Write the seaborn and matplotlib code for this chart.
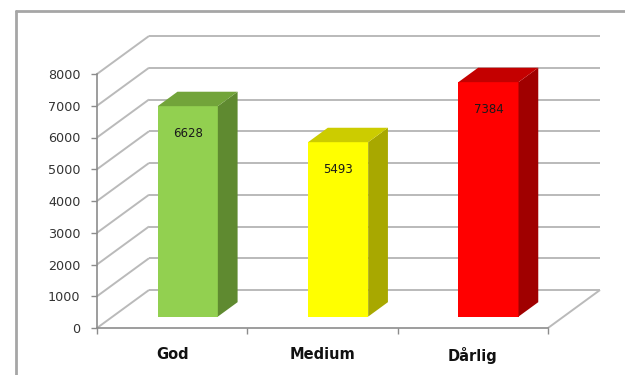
import matplotlib
matplotlib.use("Agg")
import matplotlib.pyplot as plt
import matplotlib.transforms as mtransforms
from matplotlib.patches import Polygon
from matplotlib.lines import Line2D
import pandas as pd
import seaborn as sns

# Data
categories = ["God", "Medium", "Dårlig"]
values = [6628, 5493, 7384]
y_ticks = [0, 1000, 2000, 3000, 4000, 5000, 6000, 7000, 8000]

# Face colours per bar (front, right side, top)
front_colors = ["#92d050", "#ffff00", "#ff0000"]
side_colors = ["#5f8a30", "#a8a800", "#a00000"]
top_colors = ["#72a43a", "#cccc00", "#c40000"]

sns.set_theme(style="white")
plt.rcParams["font.family"] = ["DejaVu Sans"]

W, H = 625, 375
fig = plt.figure(figsize=(W / 100, H / 100), dpi=100)
fig.patch.set_facecolor("white")

# front plane of the 3-D box, in pixels
left_px, right_px, floor_px, top_px = 97, 548, 328, 74
ax = fig.add_axes([left_px / W, (H - floor_px) / H,
                   (right_px - left_px) / W, (floor_px - top_px) / H])
ax.set_facecolor("none")

df = pd.DataFrame({"category": categories, "value": values})
sns.barplot(data=df, x="category", y="value", hue="category",
            palette=front_colors, width=0.4, saturation=1,
            legend=False, ax=ax, zorder=3)
ax.set_xlim(-0.5, 2.5)
ax.set_ylim(0, 8000)

# depth vector of the box in data units
px_x = (right_px - left_px) / 3.0
px_y = (floor_px - top_px) / 8000.0
ddx, ddy = 52 / px_x, 38 / px_y
ox, oy = 0.30 * ddx, 0.30 * ddy      # bars sit a little back from the front plane
bx, by = 0.38 * ddx, 0.38 * ddy      # bar depth

grid_kw = dict(color="#bababa", lw=1.4, clip_on=False, zorder=0.5,
               solid_capstyle="butt")
x0_, x1_ = ax.get_xlim()
for v in y_ticks:
    ax.plot([x0_ + ddx, x1_ + ddx], [v + ddy, v + ddy], **grid_kw)
    ax.plot([x0_, x0_ + ddx], [v, v + ddy], **grid_kw)
ax.plot([x1_, x1_ + ddx], [0, ddy], **grid_kw)

shift = mtransforms.Affine2D().translate(ox, oy) + ax.transData
for p, side_c, top_c, v in zip(ax.patches, side_colors, top_colors, values):
    p.set_transform(shift)
    p.set_edgecolor("none")
    p.set_clip_on(False)
    xa = p.get_x() + ox
    xb = p.get_x() + p.get_width() + ox
    h = p.get_height() + oy
    side = Polygon([(xb, oy), (xb, h), (xb + bx, h + by), (xb + bx, oy + by)],
                   closed=True, facecolor=side_c, edgecolor="none",
                   clip_on=False, zorder=3)
    top = Polygon([(xa, h), (xb, h), (xb + bx, h + by), (xa + bx, h + by)],
                  closed=True, facecolor=top_c, edgecolor="none",
                  clip_on=False, zorder=3)
    ax.add_patch(side)
    ax.add_patch(top)
    ax.annotate(f"{v}", xy=((xa + xb) / 2, h), xytext=(0, -20),
                textcoords="offset points", ha="center", va="center",
                fontsize=8.5, color="#1a1a1a", zorder=4)

# axes styling
for s in ("top", "right"):
    ax.spines[s].set_visible(False)
for s in ("left", "bottom"):
    ax.spines[s].set_color("#8c8c8c")
    ax.spines[s].set_linewidth(1.2)
    ax.spines[s].set_zorder(1)

ax.set_yticks(y_ticks)
ax.set_yticklabels([str(t) for t in y_ticks])
ax.tick_params(axis="y", which="major", direction="out", length=4,
               width=1, color="#8c8c8c", labelsize=9.2,
               labelcolor="#333333", pad=8, left=True)
ax.set_xticks([0, 1, 2])
ax.set_xticklabels(categories, fontweight="bold")
ax.set_xticks([-0.5, 0.5, 1.5, 2.5], minor=True)
ax.tick_params(axis="x", which="major", length=0, labelsize=10.5,
               labelcolor="#111111", pad=14)
ax.tick_params(axis="x", which="minor", direction="out", length=4,
               width=1, color="#8c8c8c", bottom=True)
ax.set_xlabel("")
ax.set_ylabel("")
ax.grid(False)

# outer chart frame
frame_kw = dict(transform=fig.transFigure, color="#a6a6a6", lw=2)
fx, fy = 16 / W, 1 - 11 / H
fig.add_artist(Line2D([fx, fx], [0, fy], **frame_kw))
fig.add_artist(Line2D([fx, 1], [fy, fy], **frame_kw))

fig.savefig("out.png", dpi=100)
